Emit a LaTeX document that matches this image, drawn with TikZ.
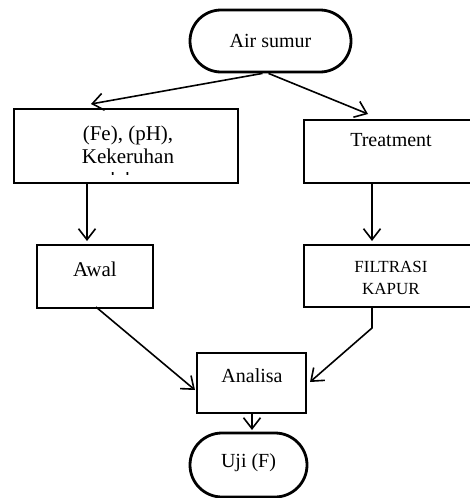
\documentclass[tikz,border=0pt]{standalone}
\usepackage{fontspec}
\setmainfont{Liberation Serif}
\usetikzlibrary{arrows.meta,shapes.misc,calc}
\begin{document}
\begin{tikzpicture}[x=1pt,y=-1pt,
  box/.style={draw,line width=2.8pt,rectangle,inner sep=0pt},
  term/.style={draw,line width=2.8pt,rounded rectangle,inner sep=0pt},
  txt/.style={font=\fontsize{20}{23}\selectfont,align=center,inner sep=0pt},
  big/.style={font=\fontsize{21}{23}\selectfont,align=center,inner sep=0pt},
  small/.style={font=\fontsize{17}{22}\selectfont,align=center,inner sep=0pt},
  arr/.style={line width=1.6pt,-{Straight Barb[length=11pt,width=17pt,line width=1.6pt]}}]
\useasboundingbox (0,0) rectangle (470,498);
\clip (0,0) rectangle (470,498);
\node[term,minimum width=161pt,minimum height=62pt] (air) at (270.5,41) {};
\node[txt] (airt) at (270.5,41) {Air sumur};
\node[box,minimum width=224pt,minimum height=74pt] (fe) at (126,146) {};
\begin{scope}
\clip (20,172.5) rectangle (230,174.8);
\node[big,anchor=base west] (fec) at (104.5,186.8) {dal};
\end{scope}
\node[big] (fet) at (128,145) {(Fe), (pH),\\Kekeruhan};
\node[box,minimum width=169pt,minimum height=63pt] (tr) at (388.5,151.5) {};
\node[txt] (trt) at (391,140) {Treatment};
\node[box,minimum width=116pt,minimum height=63pt] (aw) at (95,276.5) {};
\node[big] (awt) at (95,269) {Awal};
\node[box,minimum width=168pt,minimum height=62pt] (fil) at (388,276) {};
\node[small] (filt) at (391,278) {FILTRASI\\KAPUR};
\node[box,minimum width=109pt,minimum height=60pt] (ana) at (251.5,383) {};
\node[txt] (anat) at (252,376) {Analisa};
\node[term,minimum width=117pt,minimum height=64pt] (uji) at (248.5,465) {};
\node[txt] (ujit) at (248.5,463) {Uji (F)};
\coordinate (a1) at ($(air.south)+(-8,0)$);
\coordinate (a2) at ($(air.south)+(-2,0)$);
\coordinate (feIn) at (91,104);
\coordinate (trIn) at (368,114);
\draw[arr] (a1) -- (feIn);
\draw[arr] (a2) -- (trIn);
\draw[arr] (fe.south -| 87,0) -- (87,241);
\draw[arr] (tr.south -| 372,0) -- (372,241);
\coordinate (awOut) at (96,307);
\coordinate (anaL) at (195,390);
\draw[arr] (awOut) -- (anaL);
\coordinate (filOut) at (372,307);
\coordinate (bend) at (372,328);
\coordinate (anaR) at (310,382);
\draw[arr] (filOut) -- (bend) -- (anaR);
\draw[arr] (ana.south -| 252,0) -- (252,430);
\end{tikzpicture}
\end{document}
